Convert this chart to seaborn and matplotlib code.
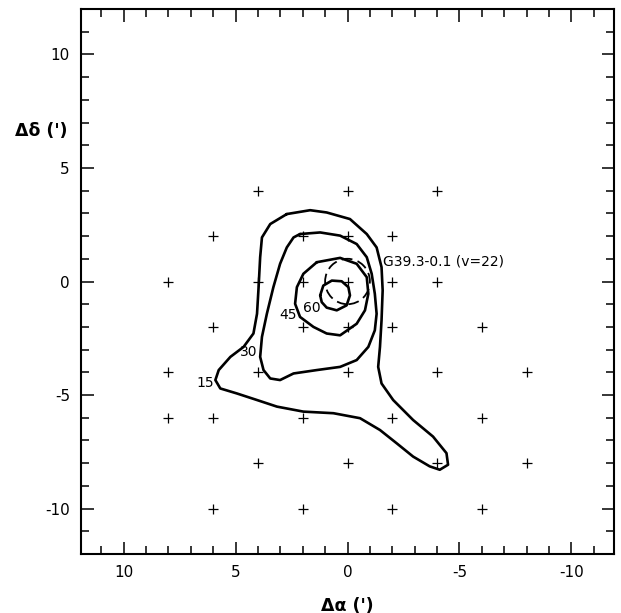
import numpy as np
import pandas as pd
import matplotlib
matplotlib.use("Agg")
import matplotlib.pyplot as plt
from matplotlib.patches import Circle
from matplotlib.ticker import MultipleLocator
import seaborn as sns

# Observed positions (offsets in arcmin)
grid_x = [4, 0, -4,
          6, 2, 0, -2,
          8, 4, 2, 0, -2, -4,
          6, 2, 0, -2, -6,
          8, 4, 0, -4, -8,
          8, 6, 2, -2, -6,
          4, 0, -4, -8,
          6, 2, -2, -6]
grid_y = [4, 4, 4,
          2, 2, 2, 2,
          0, 0, 0, 0, 0, 0,
          -2, -2, -2, -2, -2,
          -4, -4, -4, -4, -4,
          -6, -6, -6, -6, -6,
          -8, -8, -8, -8,
          -10, -10, -10, -10]

# Contour outlines (closed curves)
c15_x = [2.71, 1.67, 0.93, -0.11, -0.86, -1.30, -1.52, -1.57, -1.52, -1.45, -1.37,
         -1.52, -2.04, -2.93, -3.82, -4.42, -4.49, -4.12, -3.67, -2.93, -2.19,
         -1.45, -0.56, 0.63, 1.97, 3.15, 4.04, 4.94, 5.68, 5.90, 5.75, 5.23,
         4.64, 4.20, 4.04, 3.97, 3.90, 3.82, 3.45]
c15_y = [2.97, 3.14, 3.04, 2.75, 2.09, 1.50, 0.63, -0.39, -1.71, -2.88, -3.76,
         -4.49, -5.22, -6.10, -6.83, -7.56, -8.07, -8.29, -8.14, -7.71, -7.12,
         -6.54, -6.02, -5.80, -5.73, -5.51, -5.22, -4.93, -4.71, -4.34, -3.90,
         -3.32, -2.88, -2.29, -1.42, -0.25, 1.07, 1.94, 2.53]

c30_x = [2.12, 1.22, 0.33, -0.41, -0.86, -1.08, -1.22, -1.30, -1.22, -0.93, -0.41,
         0.33, 1.37, 2.41, 3.01, 3.45, 3.75, 3.90, 3.82, 3.60, 3.31, 3.01, 2.71, 2.41]
c30_y = [2.09, 2.16, 2.02, 1.65, 1.07, 0.34, -0.54, -1.42, -2.15, -2.88, -3.46,
         -3.76, -3.90, -4.05, -4.34, -4.27, -3.90, -3.32, -2.44, -1.42, -0.25,
         0.78, 1.50, 1.94]

c45_x = [1.37, 0.33, -0.41, -0.86, -0.93, -0.78, -0.41, 0.33, 0.93, 1.52, 2.12,
         2.34, 2.26, 1.97]
c45_y = [0.85, 1.04, 0.78, 0.19, -0.54, -1.27, -1.86, -2.37, -2.29, -2.00, -1.56,
         -0.98, -0.25, 0.34]

c60_x = [1.22, 1.08, 0.70, 0.26, -0.04, -0.11, 0.04, 0.48, 0.93, 1.15]
c60_y = [-0.61, -0.18, 0.04, 0.01, -0.25, -0.61, -1.05, -1.27, -1.15, -0.91]

levels = ["15", "30", "45", "60"]
label_x = [6.35, 4.39, 2.65, 1.58]
label_y = [-4.47, -3.11, -1.49, -1.18]

# HII region outline
source_name = "G39.3-0.1 (v=22)"
source_center = (0.0, 0.0)
source_radius = 1.0
source_label_xy = (-1.58, 0.88)

sns.set_style("ticks")
plt.rcParams["font.family"] = ["DejaVu Sans"]
plt.rcParams["axes.unicode_minus"] = False
plt.rcParams["text.color"] = "black"
plt.rcParams["axes.labelcolor"] = "black"
plt.rcParams["xtick.color"] = "black"
plt.rcParams["ytick.color"] = "black"

fig = plt.figure(figsize=(6.21, 6.13), dpi=100)
ax = fig.add_axes([81 / 621, 1 - 554 / 613, 533 / 621, 545 / 613])

# Build long-form table of contour vertices
rows = []
for lev, xs, ys in zip(levels, [c15_x, c30_x, c45_x, c60_x], [c15_y, c30_y, c45_y, c60_y]):
    xs = list(xs) + [xs[0]]
    ys = list(ys) + [ys[0]]
    for i, (xv, yv) in enumerate(zip(xs, ys)):
        rows.append({"level": lev, "order": i, "x": xv, "y": yv})
contours = pd.DataFrame(rows)

sns.lineplot(data=contours, x="x", y="y", units="level", estimator=None,
             sort=False, color="black", linewidth=1.9, ax=ax, legend=False)

points = pd.DataFrame({"x": grid_x, "y": grid_y})
sns.scatterplot(data=points, x="x", y="y", marker="+", s=60, color="black",
                linewidth=0.9, ax=ax, legend=False)

ax.add_patch(Circle(source_center, source_radius, fill=False, edgecolor="black",
                    linewidth=1.3, linestyle=(0, (6, 3))))
ax.text(source_label_xy[0], source_label_xy[1], source_name, fontsize=10,
        ha="left", va="center", color="black")

for lev, lx, ly in zip(levels, label_x, label_y):
    ax.text(lx, ly, lev, fontsize=10, ha="center", va="center", color="black")

ax.set_xlim(11.9, -11.9)
ax.set_ylim(-12, 12)
ax.xaxis.set_major_locator(MultipleLocator(5))
ax.xaxis.set_minor_locator(MultipleLocator(1))
ax.yaxis.set_major_locator(MultipleLocator(5))
ax.yaxis.set_minor_locator(MultipleLocator(1))
ax.tick_params(which="both", direction="in", top=True, right=True,
               width=1.1, color="black", labelcolor="black", labelsize=11)
ax.tick_params(which="major", length=9, pad=8)
ax.tick_params(which="minor", length=5.5)
for s in ax.spines.values():
    s.set_linewidth(1.5)
    s.set_color("black")

ax.set_xlabel("Δα (')", fontsize=12.5, fontweight="bold", color="black")
ax.set_ylabel("Δδ (')", fontsize=12.5, fontweight="bold", rotation=0,
              ha="center", va="center", color="black")
ax.xaxis.set_label_coords(0.5, -0.078)
ax.yaxis.set_label_coords(-0.075, 0.776)

fig.savefig("out.png", dpi=100)
